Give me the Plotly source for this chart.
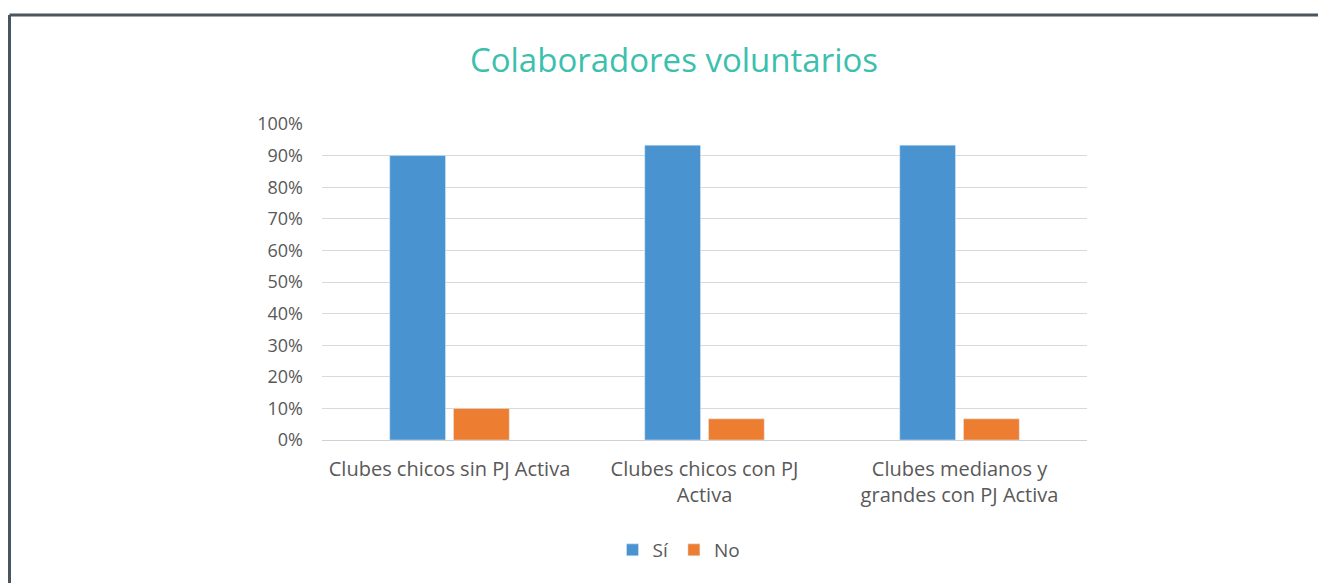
import plotly.graph_objects as go

categories = ["Clubes chicos sin PJ Activa", "Clubes chicos con PJ<br>Activa", "Clubes medianos y<br>grandes con PJ Activa"]
si_values = [0.90, 0.933, 0.933]
no_values = [0.10, 0.067, 0.067]
tick_vals = [0, 0.1, 0.2, 0.3, 0.4, 0.5, 0.6, 0.7, 0.8, 0.9, 1.0]

W, H = 1326, 583
OFF = 8  # page body margin
L, R, T, B = 322 - OFF, 1087 - OFF, 124 - OFF, 440 - OFF

def px(x):
    return (x - OFF - L) / (R - L)

def py(y):
    return (B - (y - OFF)) / (B - T)

FONT = "Open Sans, sans-serif"
TXT = "#595959"

fig = go.Figure()
fig.add_trace(go.Bar(name="Sí", x=categories, y=si_values, marker=dict(color="#4a93d1")))
fig.add_trace(go.Bar(name="No", x=categories, y=no_values, marker=dict(color="#ed7d31")))

border = "#4b555d"
fig.add_shape(type="line", xref="paper", yref="paper", x0=px(9.5), x1=px(1340), y0=py(15), y1=py(15),
              line=dict(color=border, width=3))
fig.add_shape(type="line", xref="paper", yref="paper", x0=px(9.5), x1=px(9.5), y0=py(15), y1=py(600),
              line=dict(color=border, width=3))

fig.update_layout(
    width=W, height=H,
    margin=dict(l=L, r=W - R, t=T, b=H - B),
    paper_bgcolor="white", plot_bgcolor="white",
    barmode="group", bargap=0.5, bargroupgap=0.125,
    font=dict(family=FONT, color=TXT, size=17),
    title=dict(text="Colaboradores voluntarios", xref="container", yref="container",
               x=(674 - OFF) / W, xanchor="center", y=1 - (60 - OFF) / H, yanchor="middle",
               font=dict(family=FONT, size=33, color="#3dbfae")),
    showlegend=True,
    legend=dict(orientation="h", x=px(679), xanchor="center", y=py(550), yanchor="middle",
                font=dict(size=19, color=TXT), itemwidth=30),
    xaxis=dict(showline=False, ticks="", tickfont=dict(size=20, color=TXT), ticklabelstandoff=15),
    yaxis=dict(range=[0, 1.0], tickvals=tick_vals, tickformat=".0%", showgrid=True, gridcolor="#d9d9d9",
               gridwidth=1, zeroline=True, zerolinecolor="#d0d0d0", zerolinewidth=1, showline=False,
               ticks="", tickfont=dict(size=18, color=TXT), ticklabelstandoff=18),
)

fig.write_html("out.html")
